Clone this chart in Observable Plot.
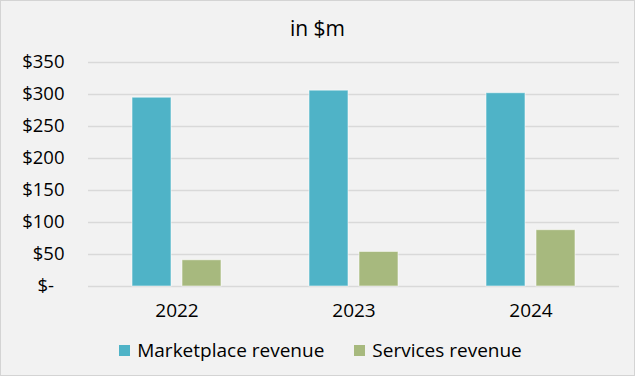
<!DOCTYPE html>
<html>
<head>
<meta charset="utf-8">
<script src="https://cdn.jsdelivr.net/npm/d3@7"></script>
<script src="https://cdn.jsdelivr.net/npm/@observablehq/plot@0.6"></script>
<style>
  html, body { margin: 0; padding: 0; background: #ffffff; }
  #frame {
    position: relative; width: 635px; height: 376px; box-sizing: border-box;
    border: 1px solid #d4d4d4; background: #f2f2f2; overflow: hidden;
    font-family: "Comic Sans MS", "Open Sans", sans-serif; color: #000;
  }
  #title { height: 48px; box-sizing: border-box; padding-top: 15px; line-height: 24px;
    text-align: center; font-size: 21px; }
  #chart svg { display: block; }
  #legend { display: flex; justify-content: center; align-items: center; gap: 30px;
    font-size: 19px; height: 38px; padding-left: 6px; }
  .item { display: flex; align-items: center; gap: 7px; }
  .sw { width: 11px; height: 11px; display: inline-block; }
</style>
</head>
<body>
<div id="frame">
  <div id="title">in $m</div>
  <div id="chart"></div>
  <div id="legend"></div>
</div>
<script>
const years = ["2022", "2023", "2024"];
const series = ["Marketplace revenue", "Services revenue"];
const marketplace = [295, 306, 302];
const services = [41, 54, 88];
const colors = ["#4fb3c7", "#a7b97e"];
const yTicks = [0, 50, 100, 150, 200, 250, 300, 350];

const data = [];
years.forEach((yr, i) => {
  data.push({year: yr, series: series[0], value: marketplace[i]});
  data.push({year: yr, series: series[1], value: services[i]});
});

const fmt = d => d === 0 ? "$-\u2007" : "$" + d;

const chart = Plot.plot({
  width: 633,
  height: 282,
  marginTop: 13,
  marginBottom: 45,
  marginLeft: 86,
  marginRight: 14,
  style: {background: "transparent", color: "#000", fontFamily: "'Comic Sans MS', 'Open Sans', sans-serif"},
  fx: {domain: years, padding: 0},
  x: {domain: series, paddingInner: 0.2255, paddingOuter: 0.855, axis: null},
  y: {domain: [0, 350]},
  color: {domain: series, range: colors},
  marks: [
    Plot.gridY(yTicks, {stroke: "#d9d9d9", strokeOpacity: 1, strokeWidth: 1.6}),
    Plot.barY(data, {fx: "year", x: "series", y: "value", fill: "series",
      stroke: "#ffffff", strokeOpacity: 0.55, strokeWidth: 1}),
    Plot.axisY(yTicks, {tickSize: 0, tickPadding: 24, tickFormat: fmt, fontSize: 18.5, label: null}),
    Plot.axisFx({anchor: "bottom", tickSize: 0, tickPadding: 17, fontSize: 19, label: null})
  ]
});
document.getElementById("chart").appendChild(chart);

const legend = document.getElementById("legend");
series.forEach((s, i) => {
  const item = document.createElement("span");
  item.className = "item";
  const sw = document.createElement("span");
  sw.className = "sw";
  sw.style.background = colors[i];
  const t = document.createElement("span");
  t.textContent = s;
  item.appendChild(sw);
  item.appendChild(t);
  legend.appendChild(item);
});
</script>
</body>
</html>
